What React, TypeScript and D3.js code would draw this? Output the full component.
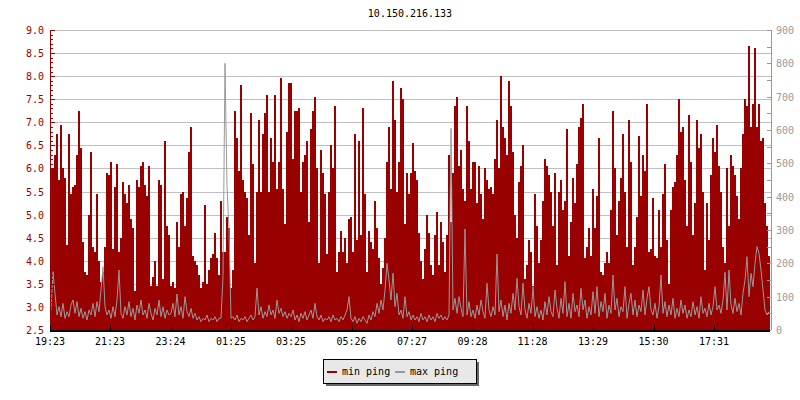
import { useEffect, useRef } from 'react';
import * as d3 from 'd3';

const TITLE = '10.150.216.133';
const START = '19:23';
const STEP_MIN = 4;
const TICK_LABELS = ['19:23', '21:23', '23:24', '01:25', '03:25', '05:26', '07:27', '09:28', '11:28', '13:29', '15:30', '17:31'];
const LEFT_DOMAIN = [2.5, 9];
const RIGHT_DOMAIN = [0, 900];
const SERIES = ['min ping', 'max ping'];
const SERIES_COLORS = ['#990000', '#999999'];

// min ping, left axis (one reading every 4 minutes)
const MIN_PING = [
    6.0, 6.0, 6.3, 6.75, 5.75, 6.95, 6.0, 5.8, 4.35, 6.75,
    5.45, 5.6, 5.65, 6.3, 7.25, 6.45, 4.4, 3.75, 3.7, 5.0,
    6.35, 4.3, 4.2, 5.45, 4.0, 3.55, 3.75, 4.3, 5.9, 5.85,
    6.15, 4.25, 5.6, 6.1, 4.2, 4.5, 5.7, 5.45, 5.25, 5.65,
    4.9, 4.7, 3.35, 5.75, 5.6, 6.05, 6.15, 5.65, 5.4, 6.05,
    3.45, 3.65, 4.0, 3.45, 5.75, 5.65, 3.6, 6.6, 4.75, 4.55,
    3.45, 3.55, 3.4, 4.85, 4.3, 5.45, 5.5, 4.75, 5.35, 6.35,
    6.9, 4.1, 4.0, 3.9, 3.7, 3.4, 3.55, 5.2, 3.5, 3.8,
    4.05, 4.15, 4.6, 4.05, 3.7, 5.3, 4.2, 4.2, 4.95, 4.7,
    3.4, 3.8, 7.25, 6.65, 5.95, 7.8, 5.75, 5.5, 5.35, 4.55,
    7.2, 6.1, 3.95, 5.5, 7.05, 5.5, 6.75, 7.2, 7.6, 5.5,
    6.65, 6.15, 7.6, 5.55, 6.15, 7.95, 5.55, 4.8, 6.8, 7.85,
    7.85, 6.2, 7.25, 7.25, 7.3, 5.5, 6.15, 6.3, 6.6, 4.85,
    6.85, 7.25, 7.55, 6.0, 3.95, 6.4, 5.9, 5.45, 4.15, 5.5,
    6.5, 6.0, 7.35, 3.75, 4.2, 4.65, 4.2, 4.5, 3.95, 4.9,
    4.95, 4.2, 6.75, 4.45, 6.6, 4.55, 7.3, 5.45, 3.75, 4.65,
    4.4, 4.25, 5.3, 4.7, 4.05, 3.5, 3.85, 4.5, 6.15, 6.9,
    5.55, 7.9, 7.05, 5.5, 6.15, 7.75, 7.5, 4.8, 5.9, 5.45,
    5.9,
    6.55, 5.95, 5.75, 4.6, 4.0, 3.6, 4.25, 5.0, 4.6, 3.9,
    3.7, 4.55, 5.05, 3.9, 4.85, 4.4, 3.75, 4.55, 6.3, 4.85,
    5.9, 7.35, 7.55, 6.05, 6.4, 5.55, 5.3, 7.35, 6.6, 5.55,
    6.15, 6.15, 5.25, 6.05, 5.45, 4.9, 6.0, 5.75, 5.55, 5.6,
    5.45, 6.2, 7.05, 6.0, 8.0, 6.9, 6.65, 6.3, 7.9, 7.35,
    6.35, 5.0, 4.5, 5.7, 6.05, 6.5, 3.6, 3.9, 4.45, 4.2,
    3.45, 5.45, 4.75, 3.95, 4.45, 5.3, 6.2, 6.05, 5.85, 5.5,
    4.75, 5.9, 3.9, 5.5, 5.75, 5.1, 5.3, 6.85, 4.1, 4.85,
    5.8, 5.25, 6.1, 6.9, 7.1, 7.4, 4.05, 4.3, 4.7, 4.1,
    5.55, 4.7, 5.4, 6.65, 3.75, 3.7, 3.95, 4.2, 3.95, 5.1,
    7.25, 6.0, 4.55, 5.3, 5.8, 6.75, 5.5, 4.3, 7.05, 6.15,
    3.9, 4.3, 4.95, 6.7, 5.4, 6.3, 5.95, 7.4, 4.2, 4.25,
    5.35, 4.1, 4.05, 5.1, 4.3, 5.45, 6.1, 4.45, 3.5, 5.1,
    5.6, 5.7, 6.3, 7.5, 6.8, 6.9, 5.75, 4.75, 7.15, 6.15,
    4.55, 5.25, 7.05, 6.45, 6.75, 5.5, 3.8, 5.25, 4.45, 5.85,
    6.65, 6.35, 6.95, 6.05, 5.5, 4.3, 3.95, 6.0, 4.75, 6.3,
    6.05, 5.85, 5.4, 4.9, 6.0, 6.75, 7.5, 7.35, 8.65, 6.9,
    7.4, 8.6, 6.9, 7.4, 6.6, 6.65, 5.25, 4.75, 4.1,
];

// max ping, right axis
const MAX_PING = [
    60, 175, 110, 45, 70, 40, 80, 35, 55, 40,
    75, 90, 50, 85, 40, 65, 35, 55, 30, 60,
    45, 80, 40, 85, 55, 120, 190, 70, 45, 60,
    35, 70, 40, 90, 180, 50, 35, 70, 45, 85,
    40, 65, 30, 75, 50, 90, 45, 60, 35, 80,
    50, 30, 65, 45, 90, 40, 70, 35, 60, 45,
    50, 80, 40, 108, 45, 70, 35, 100, 55, 40,
    65, 35, 50, 30, 40, 25, 35, 30, 45, 25,
    35, 30, 40, 25, 35, 35, 160, 800, 430, 300,
    35, 40, 30, 45, 25, 35, 30, 40, 25, 35,
    45, 30, 40, 126, 45, 70, 35, 55, 40, 75,
    45, 60, 35, 90, 50, 65, 40, 55, 35, 50,
    40, 60, 30, 45, 25, 50, 35, 55, 30, 45,
    60, 35, 80, 40, 30, 45, 25, 35, 30, 40,
    25, 45, 30, 35, 25, 40, 30, 45, 60, 100,
    35, 25, 40, 20, 35, 25, 40, 30, 20, 45,
    30, 55, 40, 80, 50, 90, 60, 120, 200, 150,
    90, 170, 70, 110, 45, 60, 35, 100, 40, 55,
    30,
    45, 30, 40, 25, 50, 30, 40, 25, 45, 30,
    40, 25, 50, 35, 45, 30, 40, 30, 45, 605,
    60, 95, 50, 100, 65, 40, 303, 45, 85, 40,
    60, 35, 75, 45, 90, 55, 35, 140, 60, 40,
    70, 45, 228, 55, 90, 40, 75, 30, 80, 50,
    110, 60, 155, 70, 45, 140, 60, 35, 80, 50,
    130, 40, 70, 35, 60, 30, 85, 45, 100, 55,
    40, 120, 65, 35, 95, 50, 145, 40, 80, 35,
    110, 55, 75, 40, 125, 60, 90, 35, 70, 45,
    115, 50, 130, 40, 85, 55, 110, 35, 75, 50,
    165, 60, 95, 40, 70, 55, 130, 35, 80, 110,
    45, 90, 40, 75, 55, 120, 45, 95, 130, 60,
    45, 80, 35, 70, 165, 50, 85, 40, 75, 45,
    95, 35, 65, 40, 90, 50, 75, 35, 60, 40,
    85, 45, 70, 35, 100, 50, 65, 40, 80, 45,
    70, 130, 60, 75, 50, 90, 173, 60, 180, 75,
    50, 95, 55, 80, 45, 110, 150, 220, 100, 170,
    130, 200, 250, 230, 180, 120, 60, 45, 55,
];

const FONT = '"DejaVu Sans Mono", "Liberation Mono", monospace';

function parseTime(base: Date, hhmm: string) {
    const [h, m] = hhmm.split(':').map(Number);
    const d = new Date(base);
    d.setHours(h, m, 0, 0);
    return d;
}

export default function App() {
    const svgRef = useRef<SVGSVGElement>(null);
    const W = 800, H = 400;
    const left = 50, right = 770, top = 30, bottom = 330;

    useEffect(() => {
        if (!svgRef.current) return;
        const svg = d3.select(svgRef.current);
        svg.selectAll('*').remove();

        const t0 = parseTime(new Date(2024, 0, 1), START);
        const n = MIN_PING.length;
        const timeAt = (i: number) => new Date(t0.getTime() + i * STEP_MIN * 60000);

        const x = d3.scaleTime().domain([t0, timeAt(n)]).range([left, right]);
        const yL = d3.scaleLinear().domain(LEFT_DOMAIN).range([bottom, top]);
        const yR = d3.scaleLinear().domain(RIGHT_DOMAIN).range([bottom, top]);

        // tick dates from labels, rolling over midnight
        let prev = t0;
        const tickDates = TICK_LABELS.map(lbl => {
            let d = parseTime(prev, lbl);
            if (d < prev) d = new Date(d.getTime() + 86400000);
            prev = d;
            return d;
        });

        svg.append('rect').attr('width', W).attr('height', H).attr('fill', '#fff');

        svg.append('text').attr('x', (left + right) / 2).attr('y', 17)
            .attr('text-anchor', 'middle').attr('font-family', FONT).attr('font-size', 10)
            .attr('fill', '#000').text(TITLE);

        // grid
        const major = d3.range(LEFT_DOMAIN[0] * 2, LEFT_DOMAIN[1] * 2 + 1).map(v => v / 2);
        svg.append('g').attr('shape-rendering', 'crispEdges')
            .selectAll('line').data(major.filter(v => v > LEFT_DOMAIN[0]))
            .join('line')
            .attr('x1', left).attr('x2', right + 1)
            .attr('y1', d => Math.round(yL(d)) + 0.5).attr('y2', d => Math.round(yL(d)) + 0.5)
            .attr('stroke', '#c0c0c0').attr('stroke-width', 1);

        svg.append('clipPath').attr('id', 'plot').append('rect')
            .attr('x', left).attr('y', top).attr('width', right - left).attr('height', bottom - top);

        const g = svg.append('g').attr('clip-path', 'url(#plot)');

        const minPts = MIN_PING.map((v, i) => ({ t: timeAt(i), v }));
        minPts.push({ t: timeAt(n), v: MIN_PING[n - 1] });
        const area = d3.area<{ t: Date; v: number }>()
            .x(d => x(d.t)).y0(bottom).y1(d => yL(d.v)).curve(d3.curveStepAfter);
        g.append('path').datum(minPts).attr('d', area).attr('fill', SERIES_COLORS[0])
            .attr('shape-rendering', 'crispEdges');

        const maxPts = MAX_PING.map((v, i) => ({ t: timeAt(i + 0.5), v }));
        const line = d3.line<{ t: Date; v: number }>().x(d => x(d.t)).y(d => yR(d.v));
        g.append('path').datum(maxPts).attr('d', line).attr('fill', 'none')
            .attr('stroke', SERIES_COLORS[1]).attr('stroke-width', 1);

        // left axis
        const la = svg.append('g').attr('stroke', '#990000').attr('shape-rendering', 'crispEdges');
        la.append('line').attr('x1', left + 0.5).attr('x2', left + 0.5).attr('y1', top).attr('y2', bottom);
        const minor = d3.range(LEFT_DOMAIN[0] * 10, LEFT_DOMAIN[1] * 10 + 1).map(v => v / 10);
        la.selectAll('line.tk').data(minor).join('line').attr('class', 'tk')
            .attr('x1', left).attr('x2', d => left + (Math.round(d * 10) % 5 === 0 ? 5 : 3))
            .attr('y1', d => Math.round(yL(d)) + 0.5).attr('y2', d => Math.round(yL(d)) + 0.5);
        svg.append('g').selectAll('text').data(major).join('text')
            .attr('x', left - 6).attr('y', d => yL(d) + 4)
            .attr('text-anchor', 'end').attr('font-family', FONT).attr('font-size', 10)
            .attr('fill', '#990000').text(d => d.toFixed(1));

        // right axis
        const ra = svg.append('g').attr('stroke', '#999').attr('shape-rendering', 'crispEdges');
        ra.append('line').attr('x1', right + 1.5).attr('x2', right + 1.5).attr('y1', top).attr('y2', bottom);
        ra.selectAll('line.tk').data(d3.range(RIGHT_DOMAIN[0], RIGHT_DOMAIN[1] + 1, 50)).join('line')
            .attr('class', 'tk')
            .attr('x1', right + 1).attr('x2', right - 3)
            .attr('y1', d => Math.round(yR(d)) + 0.5).attr('y2', d => Math.round(yR(d)) + 0.5);
        svg.append('g').selectAll('text').data(d3.range(RIGHT_DOMAIN[0], RIGHT_DOMAIN[1] + 1, 100)).join('text')
            .attr('x', right + 6).attr('y', d => yR(d) + 4)
            .attr('font-family', FONT).attr('font-size', 10).attr('fill', '#999').text(d => d);

        // bottom axis
        const ba = svg.append('g').attr('stroke', '#000').attr('shape-rendering', 'crispEdges');
        ba.append('line').attr('x1', left).attr('x2', right).attr('y1', bottom + 0.5).attr('y2', bottom + 0.5)
            .attr('stroke-width', 2);
        ba.selectAll('line.tk').data(tickDates).join('line').attr('class', 'tk')
            .attr('x1', d => Math.round(x(d)) + 0.5).attr('x2', d => Math.round(x(d)) + 0.5)
            .attr('y1', bottom).attr('y2', bottom - 5);
        svg.append('g').selectAll('text').data(tickDates).join('text')
            .attr('x', d => x(d)).attr('y', 345).attr('text-anchor', 'middle')
            .attr('font-family', FONT).attr('font-size', 10).attr('fill', '#000')
            .text((_, i) => TICK_LABELS[i]);

        // legend
        const lg = svg.append('g').attr('transform', 'translate(323,359)');
        lg.append('rect').attr('x', 3).attr('y', 3).attr('width', 153).attr('height', 24).attr('fill', '#666');
        lg.append('rect').attr('x', 0.5).attr('y', 0.5).attr('width', 153).attr('height', 24)
            .attr('fill', '#e8e8e8').attr('stroke', '#000');
        const offsets = [4, 72];
        SERIES.forEach((s, i) => {
            lg.append('line').attr('x1', offsets[i]).attr('x2', offsets[i] + 10).attr('y1', 13).attr('y2', 13)
                .attr('stroke', SERIES_COLORS[i]).attr('stroke-width', 2);
            lg.append('text').attr('x', offsets[i] + 15).attr('y', 16)
                .attr('font-family', FONT).attr('font-size', 10).attr('fill', '#000').text(s);
        });
    }, []);

    return (
        <svg ref={svgRef} width={W} height={H}
            style={{ position: 'absolute', left: 0, top: 0, display: 'block' }} />
    );
}
